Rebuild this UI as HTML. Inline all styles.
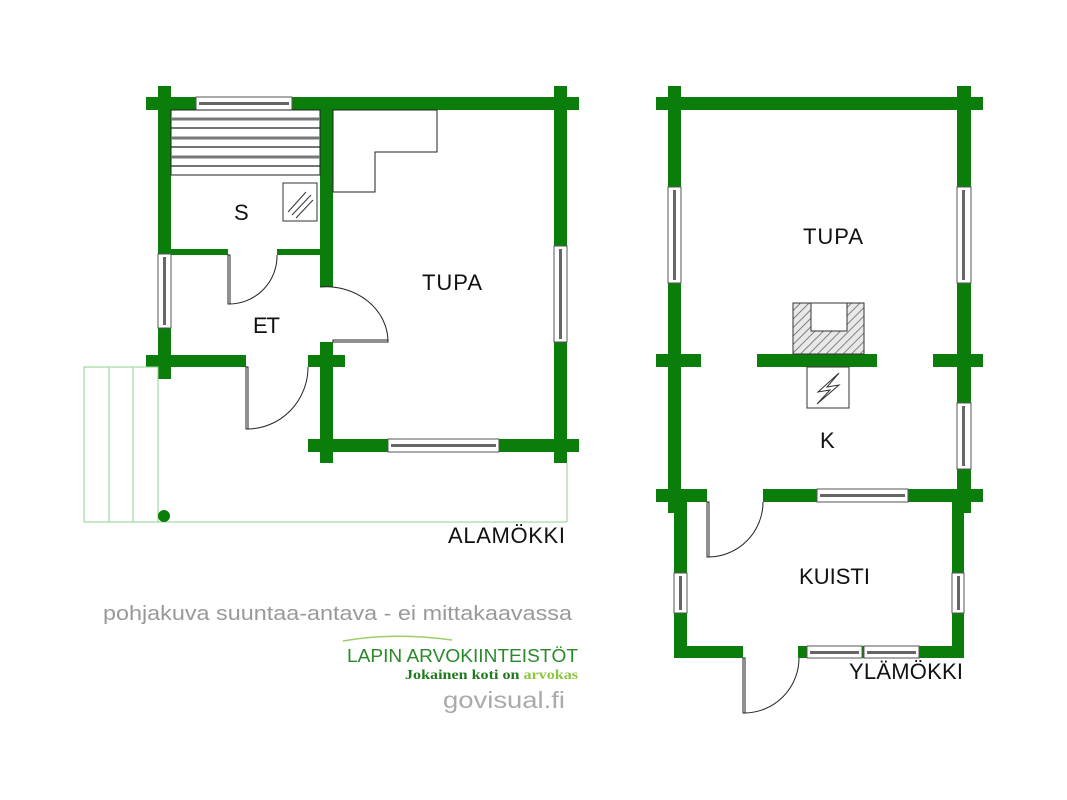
<!DOCTYPE html>
<html><head><meta charset="utf-8"><style>
html,body{margin:0;padding:0;background:#fff}
svg{display:block}
text{font-family:"Liberation Sans",sans-serif}
</style></head><body>
<svg width="1067" height="800" viewBox="0 0 1067 800" xmlns="http://www.w3.org/2000/svg">
<defs>
<pattern id="hatch" patternUnits="userSpaceOnUse" width="6" height="6" patternTransform="rotate(45)">
<rect width="6" height="6" fill="#e8e8e8"/><line x1="0" y1="0" x2="0" y2="6" stroke="#555" stroke-width="1.4"/>
</pattern>
</defs>
<g fill="#0b7d0b">
<rect x="146" y="97" width="433" height="13"/>
<rect x="158" y="86" width="13" height="293"/>
<rect x="554" y="86" width="13" height="377"/>
<rect x="308" y="439" width="271" height="13"/>
<rect x="320" y="110" width="13" height="177"/>
<rect x="320" y="342" width="13" height="121"/>
<rect x="308" y="355" width="37" height="12"/>
<rect x="146" y="355" width="100" height="12"/>
<rect x="171" y="249" width="57" height="6"/>
<rect x="277" y="249" width="43" height="6"/>
<rect x="656" y="97" width="327" height="13"/>
<rect x="668" y="86" width="13" height="427"/>
<rect x="957" y="86" width="14" height="427"/>
<rect x="656" y="354" width="45" height="13"/>
<rect x="757" y="354" width="120" height="13"/>
<rect x="933" y="354" width="50" height="13"/>
<rect x="656" y="489" width="51" height="13"/>
<rect x="763" y="489" width="220" height="13"/>
<rect x="674" y="502" width="13" height="156"/>
<rect x="952" y="502" width="12" height="156"/>
<rect x="674" y="646" width="69" height="12"/>
<rect x="798" y="646" width="166" height="12"/>
</g>
<g fill="#fff" stroke="#555" stroke-width="1">
<rect x="196" y="97" width="96" height="13"/>
<rect x="388" y="439" width="111" height="13"/>
<rect x="158" y="254" width="13" height="74"/>
<rect x="554" y="246" width="13" height="96"/>
<rect x="668" y="187" width="13" height="96"/>
<rect x="957" y="187" width="14" height="96"/>
<rect x="957" y="403" width="14" height="66"/>
<rect x="817" y="489" width="91" height="13"/>
<rect x="674" y="573" width="13" height="40"/>
<rect x="952" y="573" width="12" height="40"/>
<rect x="807" y="646" width="55" height="12"/>
<rect x="864" y="646" width="55" height="12"/>
</g>
<g fill="#666">
<rect x="199" y="102" width="90" height="3"/>
<rect x="391" y="444" width="105" height="3"/>
<rect x="163" y="257" width="3" height="68"/>
<rect x="559" y="249" width="3" height="90"/>
<rect x="673" y="190" width="3" height="90"/>
<rect x="962" y="190" width="3" height="90"/>
<rect x="962" y="406" width="3" height="60"/>
<rect x="820" y="494" width="85" height="3"/>
<rect x="679" y="576" width="3" height="34"/>
<rect x="957" y="576" width="3" height="34"/>
<rect x="810" y="651" width="49" height="3"/>
<rect x="867" y="651" width="49" height="3"/>
</g>
<rect x="171" y="110" width="149" height="65" fill="#fff" stroke="#222" stroke-width="1"/>
<g stroke="#777" stroke-width="3"><line x1="171" y1="119" x2="320" y2="119"/><line x1="171" y1="138" x2="320" y2="138"/><line x1="171" y1="157" x2="320" y2="157"/></g>
<g stroke="#222" stroke-width="1.2"><line x1="171" y1="128" x2="320" y2="128"/><line x1="171" y1="147" x2="320" y2="147"/><line x1="171" y1="166" x2="320" y2="166"/></g>
<rect x="283" y="183" width="34" height="38" fill="#fff" stroke="#333"/>
<g stroke="#333" stroke-width="1"><line x1="288" y1="212" x2="306" y2="192"/><line x1="292" y1="215" x2="311" y2="195"/><line x1="296" y1="218" x2="313" y2="200"/></g>
<polygon points="333,110 437,110 437,152 375,152 375,192 333,192" fill="#fff" stroke="#222" stroke-width="1"/>
<g fill="none" stroke="#222" stroke-width="1">
<rect x="228" y="255" width="2" height="49"/>
<path d="M229,304 A48,48 0 0 0 277,255"/>
<rect x="333" y="340" width="55" height="2"/>
<path d="M320,287 A62,55 0 0 1 388,342"/>
<rect x="246" y="367" width="2" height="62"/>
<path d="M247,429 A61,62 0 0 0 308,367"/>
<rect x="707" y="502" width="2" height="55"/>
<path d="M708,557 A55,55 0 0 0 763,502"/>
<rect x="743" y="658" width="2" height="55"/>
<path d="M744,713 A55,55 0 0 0 799,658"/>
</g>
<g fill="none" stroke="#8fd08f" stroke-width="1">
<rect x="84" y="367" width="74" height="155"/>
<line x1="109" y1="367" x2="109" y2="522"/><line x1="133" y1="367" x2="133" y2="522"/>
<line x1="158" y1="522" x2="567" y2="522"/><line x1="567" y1="463" x2="567" y2="522"/>
</g>
<circle cx="164" cy="516" r="6" fill="#0b7d0b"/>
<rect x="793" y="303" width="71" height="51" fill="url(#hatch)" stroke="#333"/>
<rect x="811" y="303" width="36" height="28" fill="#fff" stroke="#333"/>
<rect x="807" y="367" width="42" height="41" fill="#fff" stroke="#333"/>
<path d="M839,373 L818,392 L830,390 L817,404 L839,385 L827,387 Z" fill="#fff" stroke="#333" stroke-width="1"/>
<g fill="#111" font-size="22" lengthAdjust="spacingAndGlyphs">
<text x="234" y="220" textLength="14">S</text>
<text x="253" y="333" textLength="27">ET</text>
<text x="422" y="290" textLength="60">TUPA</text>
<text x="803" y="244" textLength="60">TUPA</text>
<text x="820" y="448" textLength="15">K</text>
<text x="799" y="584" textLength="71">KUISTI</text>
<text x="849" y="679" textLength="114">YLÄMÖKKI</text>
<text x="448" y="543" textLength="117">ALAMÖKKI</text>
</g>
<text x="103" y="620" font-size="20" fill="#999" textLength="469" lengthAdjust="spacingAndGlyphs">pohjakuva suuntaa-antava - ei mittakaavassa</text>
<path d="M343,641 Q395,632 452,640" fill="none" stroke="#9ccf6a" stroke-width="1.5"/>
<text x="347" y="662" font-size="18" fill="#2a8a2a" textLength="231" lengthAdjust="spacingAndGlyphs">LAPIN ARVOKIINTEISTÖT</text>
<text x="405" y="679" font-size="14" font-weight="bold" fill="#1f7a1f" style="font-family:'Liberation Serif',serif" textLength="173" lengthAdjust="spacingAndGlyphs">Jokainen koti on <tspan fill="#8cc63f">arvokas</tspan></text>
<text x="443" y="708" font-size="23" fill="#aaa" textLength="122" lengthAdjust="spacingAndGlyphs">govisual.fi</text>
</svg>
</body></html>
